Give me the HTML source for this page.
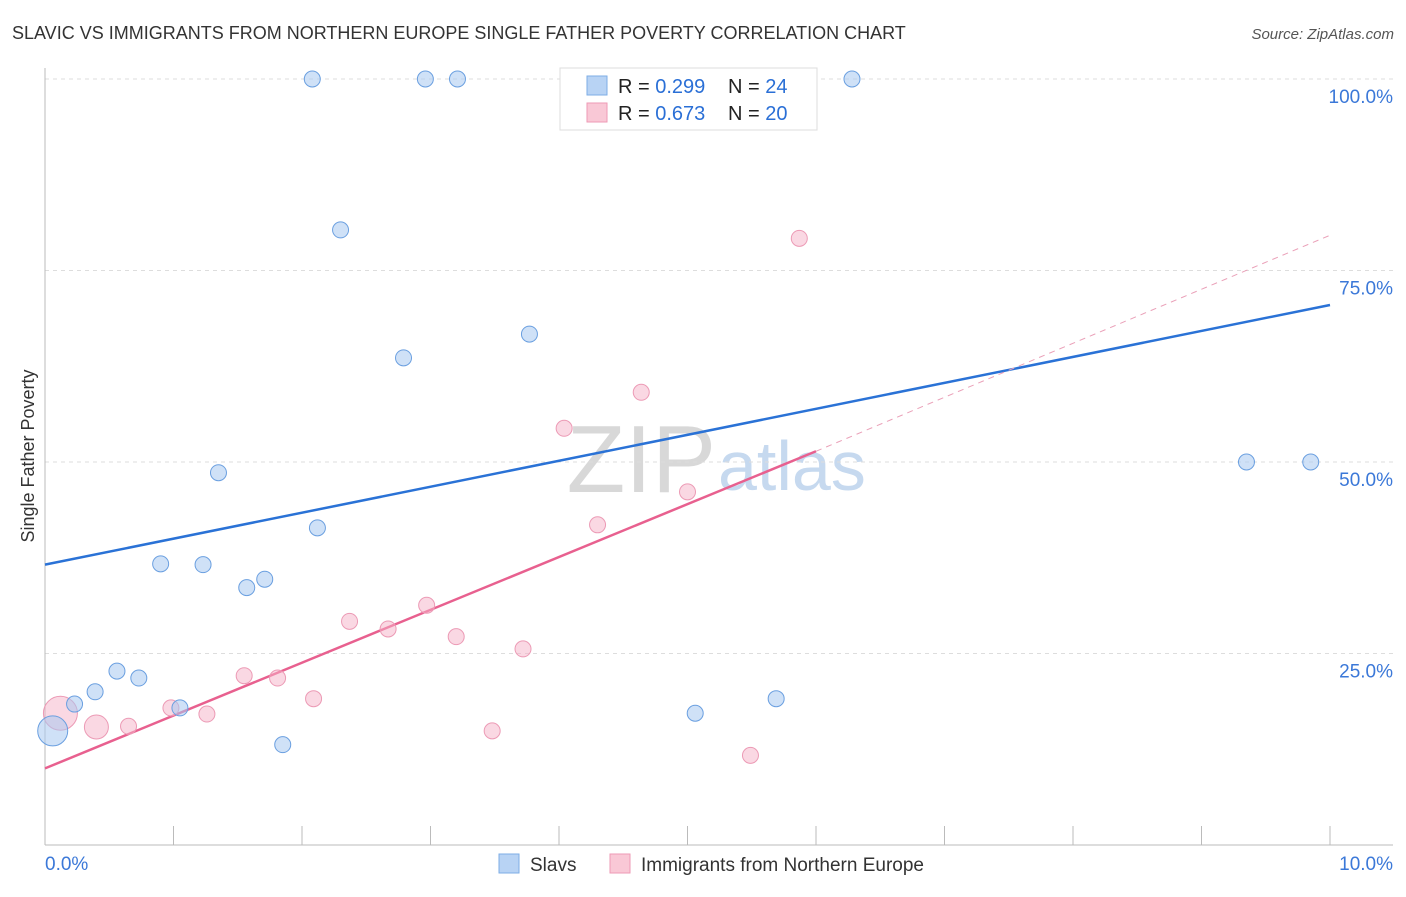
<!DOCTYPE html>
<html><head><meta charset="utf-8"><style>
body{margin:0;background:#fff;font-family:"Liberation Sans",sans-serif;}
svg text{font-family:"Liberation Sans",sans-serif;}
</style></head><body>
<svg id="chart" width="1406" height="892">
<text x="12" y="39" font-size="18" fill="#333">SLAVIC VS IMMIGRANTS FROM NORTHERN EUROPE SINGLE FATHER POVERTY CORRELATION CHART</text>
<text x="1394" y="39" font-size="15" fill="#555" font-style="italic" text-anchor="end">Source: ZipAtlas.com</text>
<text x="34" y="456" font-size="18" fill="#333" text-anchor="middle" transform="rotate(-90 34 456)">Single Father Poverty</text>
<text x="716" y="492" font-size="96" fill="#d8d8d8" text-anchor="end" font-family="Liberation Serif">ZIP</text>
<text x="718" y="490" font-size="70" fill="#c6d9ef">atlas</text>
<g id="grid"></g><g id="axes"></g><g id="trends"></g><g id="points"></g>
<g>
<rect x="560" y="68" width="257" height="62" fill="#fff" stroke="#ddd"/>
<rect x="587" y="76" width="20" height="19" fill="#b8d3f4" stroke="#7eaee6"/>
<rect x="587" y="103" width="20" height="19" fill="#f9c8d6" stroke="#ee9ab5"/>
<text x="618" y="93" font-size="20" fill="#222">R = <tspan fill="#2a6fd6">0.299</tspan></text>
<text x="728" y="93" font-size="20" fill="#222">N = <tspan fill="#2a6fd6">24</tspan></text>
<text x="618" y="120" font-size="20" fill="#222">R = <tspan fill="#2a6fd6">0.673</tspan></text>
<text x="728" y="120" font-size="20" fill="#222">N = <tspan fill="#2a6fd6">20</tspan></text>
</g>
<g>
<rect x="499" y="854" width="20" height="19" fill="#b8d3f4" stroke="#7eaee6"/>
<text x="530" y="871" font-size="19" fill="#333">Slavs</text>
<rect x="610" y="854" width="20" height="19" fill="#f9c8d6" stroke="#ee9ab5"/>
<text x="641" y="871" font-size="19" fill="#333">Immigrants from Northern Europe</text>
</g>
</svg>
<script>
const yTicks=[25,50,75,100];
const yTickLabels=["25.0%","50.0%","75.0%","100.0%"];
const slavX=[2.08,2.96,3.21,6.28,2.30,3.77,2.79,1.35,2.12,0.90,1.23,1.71,1.57,0.56,0.73,0.39,0.23,1.05,1.85,5.06,5.69,9.35,9.85,0.06];
const slavY=[100,100,100,100,80.3,66.7,63.6,48.6,41.4,36.7,36.6,34.7,33.6,22.7,21.8,20.0,18.4,17.9,13.1,17.2,19.1,50,50,14.9];
const slavR=[8,8,8,8,8,8,8,8,8,8,8,8,8,8,8,8,8,8,8,8,8,8,8,15];
const neX=[5.87,4.64,4.04,5.0,4.30,2.97,2.37,2.67,3.20,3.72,1.55,1.81,2.09,0.98,1.26,0.65,0.40,0.12,3.48,5.49];
const neY=[79.2,59.1,54.4,46.1,41.8,31.3,29.2,28.2,27.2,25.6,22.1,21.8,19.1,17.9,17.1,15.5,15.4,17.2,14.9,11.7];
const neR=[8,8,8,8,8,8,8,8,8,8,8,8,8,8,8,8,12,17,8,8];
const slavTrend=[0,36.6,10,70.5];
const neTrend=[0,10.0,6.0,51.4,10,79.6];
const X=v=>45+v*128.5, Y=v=>845-v*7.66;
const NS="http://www.w3.org/2000/svg";
function mk(p,t,a){const e=document.createElementNS(NS,t);for(const k in a)e.setAttribute(k,a[k]);document.getElementById(p).appendChild(e);return e;}
yTicks.forEach((t,i)=>{
 const g=mk('grid','line',{x1:45,x2:1393,y1:Y(t),y2:Y(t),stroke:'#ddd','stroke-dasharray':'4,4'});
 
 
 const l=mk('grid','text',{x:1393,y:Y(t)+24,'font-size':19,fill:'#3b78d8','text-anchor':'end'});l.textContent=yTickLabels[i];
 
 
});
const ax1=mk('axes','line',{x1:45,x2:45,y1:68,y2:845,stroke:'#bbb'});


const ax2=mk('axes','line',{x1:45,x2:1393,y1:845,y2:845,stroke:'#bbb'});


for(let i=1;i<=10;i++){const t=mk('axes','line',{x1:X(i),x2:X(i),y1:826,y2:845,stroke:'#bbb'});
 
 }
const xl0=mk('axes','text',{x:45,y:870,'font-size':19,fill:'#3b78d8'});xl0.textContent='0.0%';


const xl1=mk('axes','text',{x:1393,y:870,'font-size':19,fill:'#3b78d8','text-anchor':'end'});xl1.textContent='10.0%';


const bt=mk('trends','line',{x1:X(slavTrend[0]),y1:Y(slavTrend[1]),x2:X(slavTrend[2]),y2:Y(slavTrend[3]),stroke:'#2a72d6','stroke-width':2.5});


const pt=mk('trends','line',{x1:X(neTrend[0]),y1:Y(neTrend[1]),x2:X(neTrend[2]),y2:Y(neTrend[3]),stroke:'#e8608f','stroke-width':2.5});


const pd=mk('trends','line',{x1:X(neTrend[2]),y1:Y(neTrend[3]),x2:X(neTrend[4]),y2:Y(neTrend[5]),stroke:'#eaa0b8','stroke-width':1,'stroke-dasharray':'6,5'});


neX.forEach((v,i)=>{const c=mk('points','circle',{cx:X(v),cy:Y(neY[i]),r:neR[i],fill:'rgba(246,178,200,0.5)',stroke:'#ec9ab5','stroke-width':1});
 
 });
slavX.forEach((v,i)=>{const c=mk('points','circle',{cx:X(v),cy:Y(slavY[i]),r:slavR[i],fill:'rgba(168,200,240,0.55)',stroke:'#6a9fe0','stroke-width':1});
 
 });
</script>
</body></html>
